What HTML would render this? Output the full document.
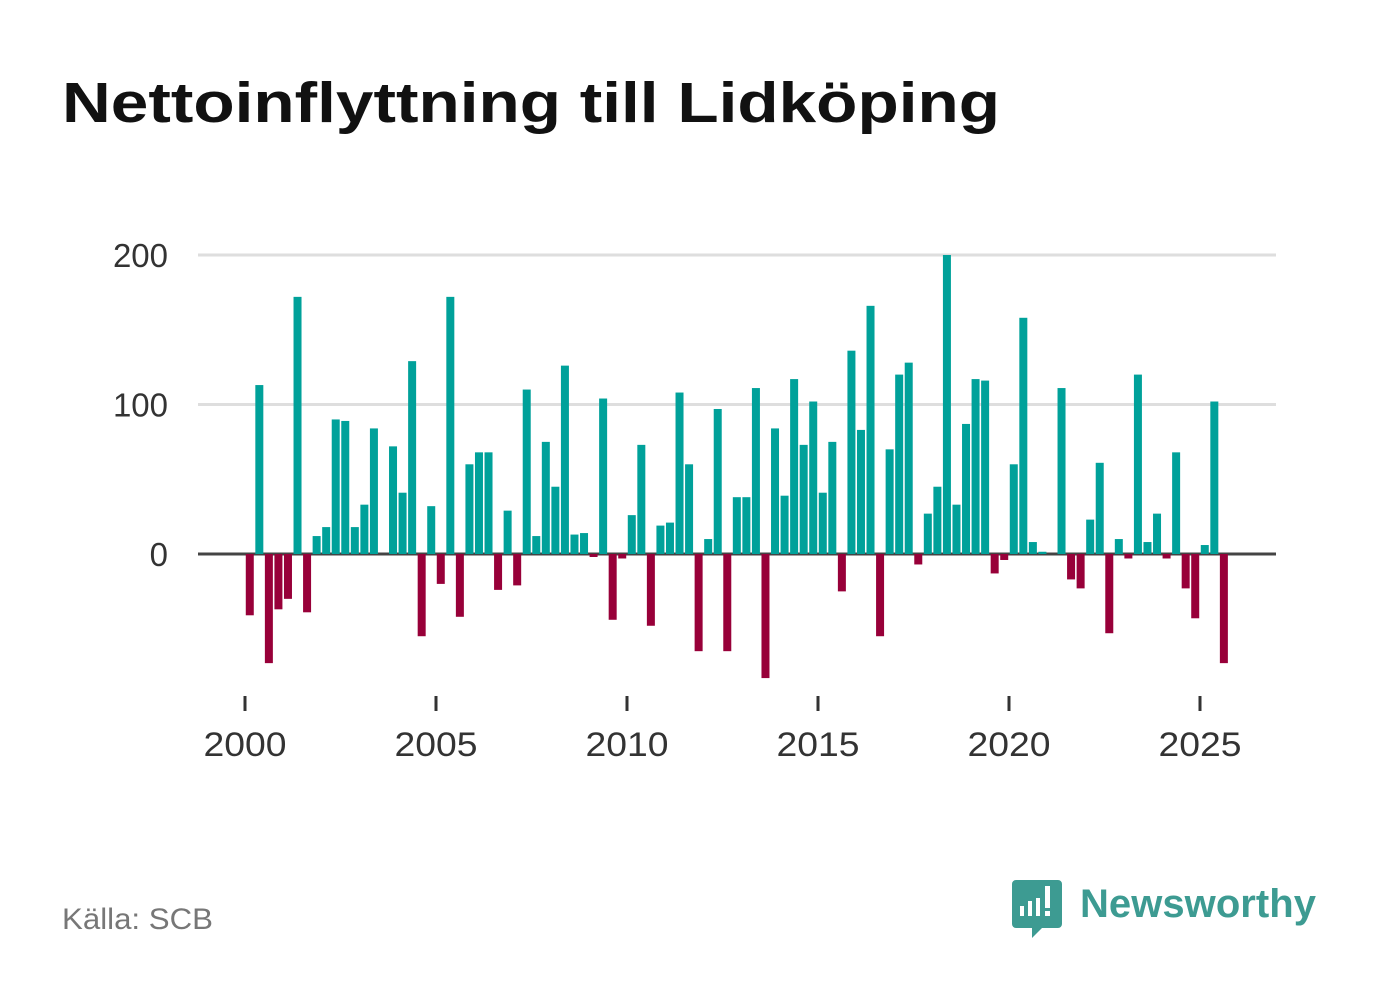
<!DOCTYPE html>
<html><head><meta charset="utf-8"><style>
html,body{margin:0;padding:0;background:#fff;width:1382px;height:999px;overflow:hidden}
svg text{font-family:"Liberation Sans",sans-serif}
</style></head><body>
<svg id="chart" width="1382" height="999" xmlns="http://www.w3.org/2000/svg">
<text x="62" y="122" font-size="57" font-weight="bold" fill="#111" textLength="938" lengthAdjust="spacingAndGlyphs">Nettoinflyttning till Lidköping</text>
<g id="grid"></g>
<g id="bars"></g>
<g id="xaxis"></g>
<text x="62" y="929" font-size="30" fill="#777" textLength="151" lengthAdjust="spacingAndGlyphs">Källa: SCB</text>
<g>
<path d="M1016 880 h42 a4 4 0 0 1 4 4 v40 a4 4 0 0 1 -4 4 h-16 l-10 10 v-10 h-16 a4 4 0 0 1 -4 -4 v-40 a4 4 0 0 1 4 -4z" fill="#3d9b92"/>
<rect x="1020" y="906" width="4" height="10" fill="#fff"/>
<rect x="1028" y="901" width="4" height="15" fill="#fff"/>
<rect x="1036" y="898" width="4" height="18" fill="#fff"/>
<rect x="1045" y="886" width="5" height="22" fill="#fff"/>
<rect x="1045" y="911" width="5" height="5" fill="#fff"/>
<text x="1080" y="917" font-size="40" font-weight="bold" fill="#3d9b92" textLength="236">Newsworthy</text>
</g>
</svg>
<script>
const values = [-41,113,-73,-37,-30,172,-39,12,18,90,89,18,33,84,0,72,41,129,-55,32,-20,172,-42,60,68,68,-24,29,-21,110,12,75,45,126,13,14,-2,104,-44,-3,26,73,-48,19,21,108,60,-65,10,97,-65,38,38,111,-83,84,39,117,73,102,41,75,-25,136,83,166,-55,70,120,128,-7,27,45,200,33,87,117,116,-13,-4,60,158,8,1.5,0,111,-17,-23,23,61,-53,10,-3,120,8,27,-3,68,-23,-43,6,102,-73];
const startYear = 2000;
const yTicks = [0,100,200];
const xTicks = [2000,2005,2010,2015,2020,2025];
const NS="http://www.w3.org/2000/svg";
const X0=245, PXYEAR=38.2, Y0=554, PXUNIT=1.495;
const xScale = t => X0 + (t - startYear) * PXYEAR;
const yScale = v => Y0 - v * PXUNIT;
function mk(tag, attrs, parent){const e=document.createElementNS(NS,tag);for(const k in attrs)e.setAttribute(k,attrs[k]);parent.appendChild(e);return e;}
const grid=document.getElementById('grid'), bars=document.getElementById('bars'), xa=document.getElementById('xaxis');
yTicks.forEach(t=>{
  if(t!==0){const l=mk('line',{x1:198,x2:1276,y1:yScale(t),y2:yScale(t),stroke:'#dedede','stroke-width':3},grid);
  
  }
  const tx=mk('text',{x:168,y:yScale(t)+12,'font-size':33,'text-anchor':'end',fill:'#333'},grid);
  tx.textContent=t;
  
  
});
values.forEach((v,i)=>{
  const cx=xScale(startYear+(i+0.5)/4);
  const y=Math.min(yScale(v),Y0), h=Math.abs(yScale(v)-Y0);
  const r=mk('rect',{x:cx-4,y:y,width:8,height:h,fill:v>=0?'#00a19a':'#980039'},bars);
  
  
});
const zl=mk('line',{x1:198,x2:1276,y1:Y0,y2:Y0,stroke:'#444','stroke-width':3},grid);


xTicks.forEach(t=>{
  const x=xScale(t);
  const tk=mk('line',{x1:x,x2:x,y1:696,y2:711,stroke:'#333','stroke-width':3},xa);
  
  
  const tx=mk('text',{x:x,y:756,'font-size':34,'text-anchor':'middle',fill:'#333','textLength':83,'lengthAdjust':'spacingAndGlyphs'},xa);
  tx.textContent=t;
  
  
});
</script>
</body></html>
